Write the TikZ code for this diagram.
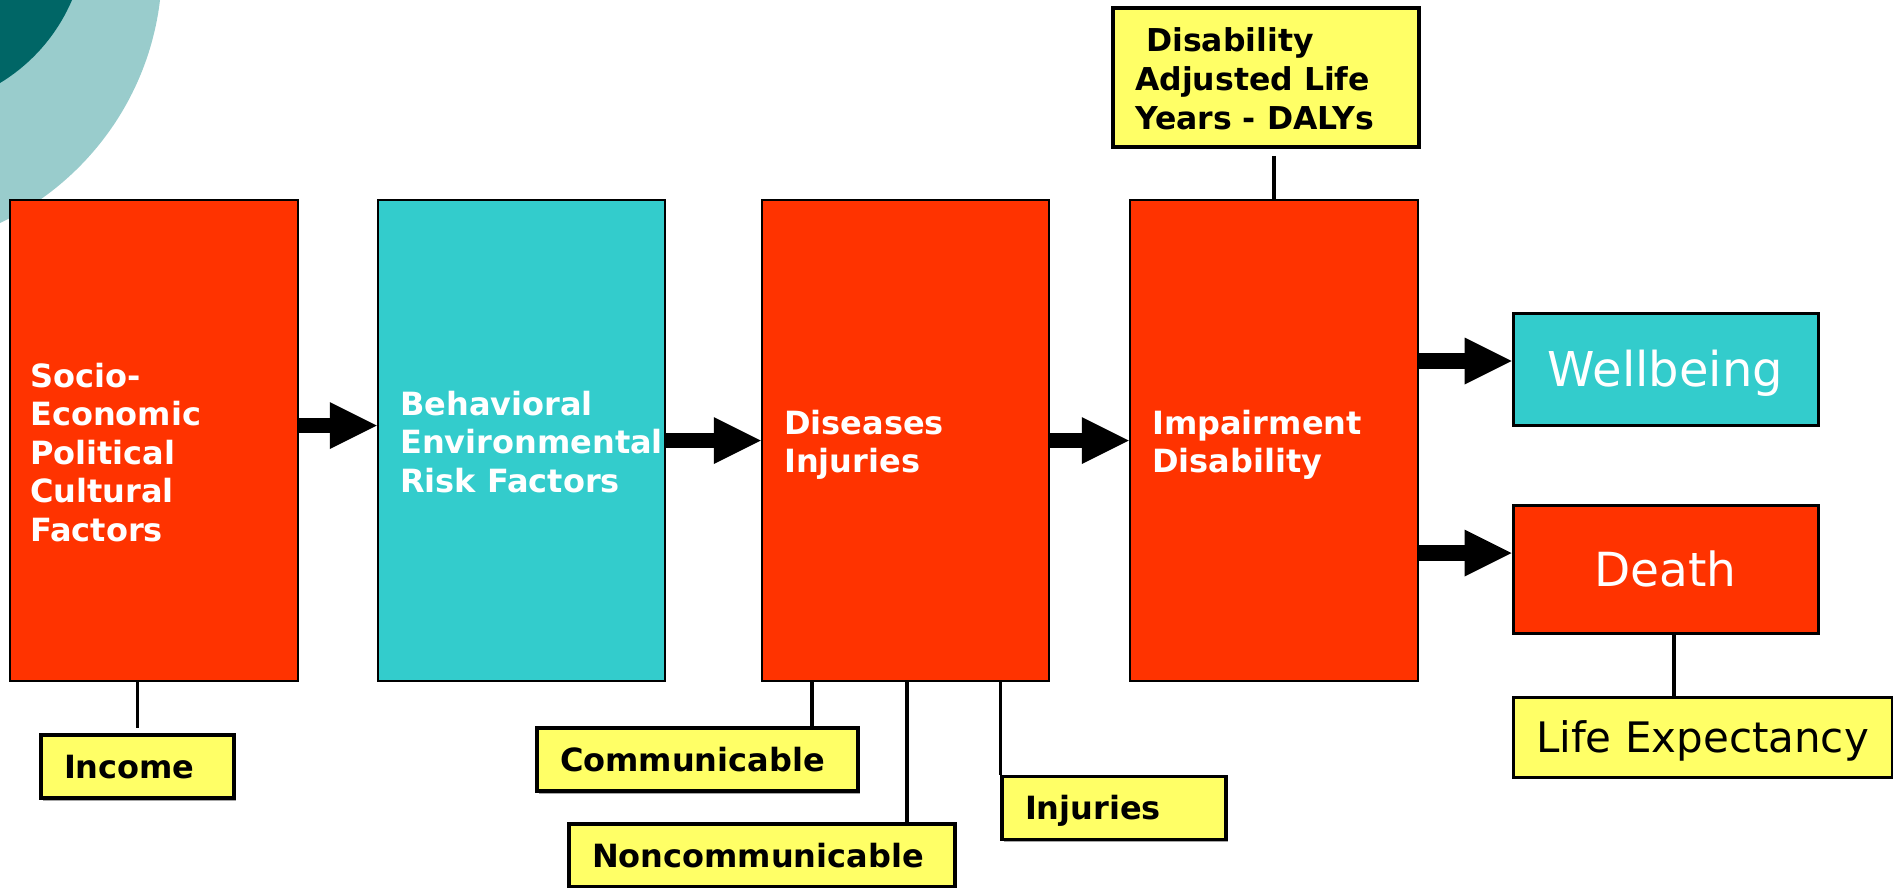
\documentclass[tikz,border=0pt]{standalone}
\usepackage{fontspec}
\setmainfont{DejaVu Sans}
\usetikzlibrary{arrows.meta,calc,shadows}
\definecolor{cred}{HTML}{FF3300}
\definecolor{ccyan}{HTML}{33CCCC}
\definecolor{cyel}{HTML}{FFFF66}
\definecolor{cdark}{HTML}{006666}
\definecolor{clight}{HTML}{99CCCC}
\begin{document}
\begin{tikzpicture}[x=1pt,y=-1pt,
  bigbox/.style={draw=black, line width=2.5pt, inner sep=0pt},
  redbox/.style={bigbox, fill=cred},
  cyanbox/.style={bigbox, fill=ccyan},
  boxtext/.style={anchor=base west, inner sep=0pt, align=left, text=white, font=\fontsize{32}{38.5}\selectfont\bfseries},
  ylab/.style={draw=black, fill=cyel, line width=3.5pt, inner xsep=23pt, inner ysep=0pt, align=left, text height=23.3pt, text depth=0pt, minimum height=63pt, font=\fontsize{32}{38.5}\selectfont\bfseries, drop shadow={shadow xshift=1.5pt, shadow yshift=-2.5pt, fill=black!35, opacity=1}},
  endbox/.style={draw=black, line width=3pt, inner sep=0pt, text=white, font=\fontsize{47}{50}\selectfont, text height=34.3pt, text depth=0pt},
  bigarrow/.style={line width=15.5pt, -{Triangle[length=47pt 0 1, width=47pt 0 1, line width=0pt]}},
  conn/.style={draw=black, line width=3.5pt}
]
\useasboundingbox (0,0) rectangle (1893,887);
\begin{scope}
  \clip (0,0) rectangle (1893,887);
  \fill[clight] (-122.5,-33.8) circle (284.5pt);
  \fill[cdark] (-92.8,-70.2) circle (179.1pt);
\end{scope}

% main boxes
\node[redbox, minimum width=288pt, minimum height=481pt] (b1) at (154,440.5) {};
\node[cyanbox, minimum width=287pt, minimum height=481pt] (b2) at (521.5,440.5) {};
\node[redbox, minimum width=287pt, minimum height=481pt] (b3) at (905.5,440.5) {};
\node[redbox, minimum width=288pt, minimum height=481pt] (b4) at (1274,440.5) {};

% (base anchor = baseline of the last line)
\node[boxtext] (t1) at (30,541) {Socio-\\Economic\\Political\\Cultural\\Factors};
\node[boxtext] (t2) at (400,492) {Behavioral\\Environmental\\Risk Factors};
\node[boxtext] (t3) at (784,472.5) {Diseases\\Injuries};
\node[boxtext] (t4) at (1152,472.5) {Impairment\\Disability};

% DALYs
\node[draw=black, fill=cyel, line width=3.5pt, inner sep=0pt, minimum width=306pt, minimum height=139pt] (dalys) at (1266,77.5) {};
\node[anchor=base west, inner sep=0pt, align=left, font=\fontsize{31.5}{39}\selectfont\bfseries] (dtext) at (1135,129) {\hspace*{11pt}Disability\\Adjusted Life\\Years - DALYs};

% outcome boxes
\node[endbox, fill=ccyan, minimum width=305pt, minimum height=112pt, font=\fontsize{48}{50}\selectfont, text height=35pt] (w) at (1665.5,369) {Wellbeing};
\node[endbox, fill=cred, minimum width=305pt, minimum height=128pt] (d) at (1665.5,569) {Death};
\node[endbox, fill=cyel, text=black, minimum width=379pt, minimum height=80pt, font=\fontsize{42}{46}\selectfont, text height=30.6pt] (le) at (1702.5,737) {Life Expectancy};

% lower labels
\node[ylab, minimum width=193pt, text width=147pt] (inc) at (137.5,766.5) {Income};
\node[ylab, minimum width=321pt, text width=275pt] (com) at (697.5,759.5) {Communicable};
\node[ylab, minimum width=386pt, text width=340pt] (non) at (762,855.5) {Noncommunicable};
\node[ylab, minimum width=224pt, text width=178pt] (inj) at (1114,808) {Injuries};

% big arrows
\draw[bigarrow] ([yshift=15pt]b1.east) -- ([yshift=15pt]b2.west);
\draw[bigarrow] (b2.east) -- (b3.west);
\draw[bigarrow] (b3.east) -- (b4.west);
\draw[bigarrow] ([yshift=8pt]b4.east |- w.west) -- ([yshift=8pt]w.west);
\draw[bigarrow] ([yshift=16pt]b4.east |- d.west) -- ([yshift=16pt]d.west);

% connectors
\coordinate (cinc) at ($(inc.north)+(0,-5)$);
\draw[conn] (cinc |- b1.south) -- (cinc);
\coordinate (ccom) at ($(com.north east)+(-48,0)$);
\draw[conn] (ccom |- b3.south) -- (ccom);
\coordinate (cnon) at ($(non.north east)+(-50,0)$);
\draw[conn] (cnon |- b3.south) -- (cnon);
\draw[conn] (inj.north west |- b3.south) -- (inj.north west);
\coordinate (cdal) at ($(b4.north |- dalys.south)+(0,7)$);
\draw[conn] (cdal) -- (b4.north);
\coordinate (cdl) at ($(d.south)+(8.5,0)$);
\draw[conn] (cdl) -- (cdl |- le.north);
\end{tikzpicture}
\end{document}
